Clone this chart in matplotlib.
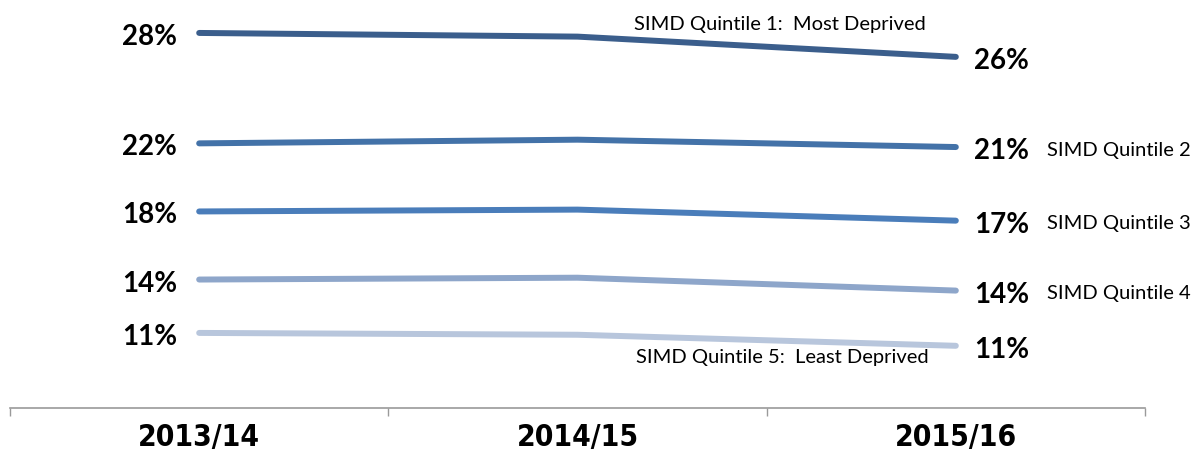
import matplotlib.pyplot as plt
from matplotlib.ticker import FixedLocator

years = ['2013/14', '2014/15', '2015/16']
q1 = [27.6, 27.4, 26.3]
q2 = [21.6, 21.8, 21.4]
q3 = [17.9, 18.0, 17.4]
q4 = [14.2, 14.3, 13.6]
q5 = [11.3, 11.2, 10.6]
series = [q1, q2, q3, q4, q5]
names = ['SIMD Quintile 1:  Most Deprived', 'SIMD Quintile 2', 'SIMD Quintile 3',
         'SIMD Quintile 4', 'SIMD Quintile 5:  Least Deprived']
colors = ['#3B5E8C', '#4372A8', '#4A7DBA', '#8EA6CA', '#B8C6DC']

fig = plt.figure(figsize=(11.98, 4.59), dpi=100)
ax = fig.add_axes([10 / 1198, 51 / 459, 1135 / 1198, 408 / 459])

x = list(range(len(years)))
for vals, name, col in zip(series, names, colors):
    ax.plot(x, vals, color=col, lw=4.3, solid_capstyle='round')
    # start / end value labels
    ax.annotate(f'{round(vals[0]):.0f}%', (x[0], vals[0]), xytext=(-22, -4),
                textcoords='offset pixels', ha='right', va='center',
                fontsize=20, family='Lato', fontweight='bold')
    ax.annotate(f'{round(vals[-1]):.0f}%', (x[-1], vals[-1]), xytext=(18, -4),
                textcoords='offset pixels', ha='left', va='center',
                fontsize=20, family='Lato', fontweight='bold')

# series names
ax.annotate(names[0], (x[-1], q1[-1]), xytext=(-30, 32), textcoords='offset pixels',
            ha='right', va='center', fontsize=14.5, family='Lato')
for vals, name in zip(series[1:4], names[1:4]):
    ax.annotate(name, (x[-1], vals[-1]), xytext=(91, -3), textcoords='offset pixels',
                ha='left', va='center', fontsize=14.5, family='Lato')
ax.annotate(names[4], (x[-1], q5[-1]), xytext=(-27, -12), textcoords='offset pixels',
            ha='right', va='center', fontsize=14.5, family='Lato')

ax.set_xlim(-0.5, 2.5)
ax.set_ylim(7.22, 29.39)
for s in ['top', 'right', 'left']:
    ax.spines[s].set_visible(False)
ax.spines['bottom'].set_color('#9a9a9a')
ax.spines['bottom'].set_linewidth(1.2)
ax.set_yticks([])
ax.xaxis.set_major_locator(FixedLocator([-0.5, 0.5, 1.5, 2.5]))
ax.xaxis.set_minor_locator(FixedLocator(x))
ax.set_xticklabels([])
ax.set_xticklabels(years, minor=True)
ax.tick_params(axis='x', which='major', length=5.5, width=1, color='#9a9a9a', direction='out')
ax.tick_params(axis='x', which='minor', length=0, pad=11)
for lbl in ax.get_xticklabels(minor=True):
    lbl.set_family('DejaVu Sans')
    lbl.set_stretch('condensed')
    lbl.set_fontweight('bold')
    lbl.set_fontsize(21.5)

fig.savefig('out.png', dpi=100)
